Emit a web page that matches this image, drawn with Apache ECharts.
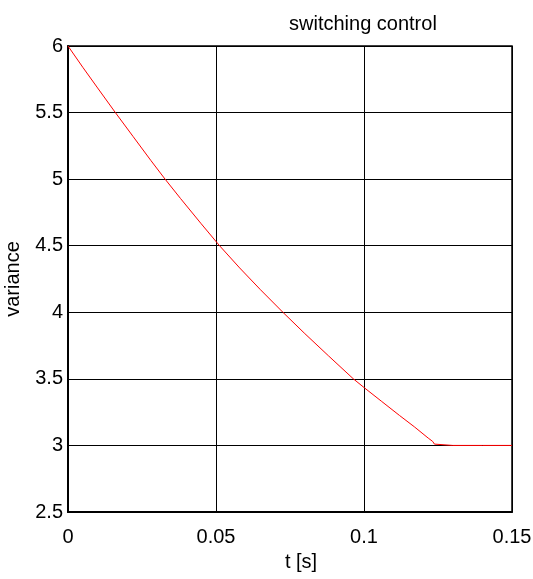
<!DOCTYPE html>
<html>
<head>
<meta charset="utf-8">
<script src="https://cdn.jsdelivr.net/npm/echarts@6/dist/echarts.min.js"></script>
<style>
  html, body { margin: 0; padding: 0; background: #fff; }
  #chart { width: 533px; height: 579px; }
</style>
</head>
<body>
<div id="chart"></div>
<script>
// Variance decay under switching control
const timeS = [0, 0.005, 0.010, 0.016, 0.022, 0.028, 0.0328, 0.038, 0.045, 0.0512, 0.058, 0.065, 0.0726, 0.080, 0.088, 0.0964, 0.100, 0.106, 0.112, 0.117, 0.1217, 0.1232, 0.1238, 0.1242, 0.130, 0.140, 0.150];
const variance = [6.0, 5.84, 5.685, 5.5, 5.32, 5.14, 5.0, 4.855, 4.665, 4.5, 4.333, 4.17, 4.0, 3.84, 3.673, 3.5, 3.435, 3.33, 3.225, 3.14, 3.055, 3.03, 3.01, 3.0, 3.0, 3.0, 3.0];

const xTicks = { min: 0, max: 0.15, step: 0.05 };
const yTicks = { min: 2.5, max: 6, step: 0.5 };

const FONT = '"Liberation Sans Narrow", "Liberation Sans", Arial, sans-serif';

const chart = echarts.init(document.getElementById('chart'), null, { renderer: 'canvas' });
chart.setOption({
  animation: false,
  backgroundColor: '#ffffff',
  title: {
    text: 'switching control',
    left: 284,
    top: 9,
    textStyle: { fontFamily: FONT, fontSize: 20, fontWeight: 'normal', color: '#000' }
  },
  grid: {
    left: 68, right: 21, top: 46, bottom: 67,
    outerBoundsMode: 'none',
    containLabel: false,
    show: true, borderColor: '#000', borderWidth: 1.5, backgroundColor: '#fff'
  },
  xAxis: {
    type: 'value',
    min: xTicks.min, max: xTicks.max, interval: xTicks.step,
    name: 't [s]',
    nameLocation: 'middle',
    nameGap: 40,
    nameTextStyle: { fontFamily: FONT, fontSize: 20, color: '#000', padding: [0, 0, 0, 22] },
    axisLine: { show: true, onZero: false, lineStyle: { color: '#000', width: 2 } },
    axisTick: { show: false },
    axisLabel: { fontFamily: FONT, fontSize: 20, color: '#000', margin: 15 },
    splitLine: { show: true, lineStyle: { color: '#000', width: 1 } }
  },
  yAxis: {
    type: 'value',
    min: yTicks.min, max: yTicks.max, interval: yTicks.step,
    name: 'variance',
    nameLocation: 'middle',
    nameGap: 45,
    nameRotate: 90,
    nameTextStyle: { fontFamily: FONT, fontSize: 20, color: '#000' },
    axisLine: { show: true, onZero: false, lineStyle: { color: '#000', width: 2 } },
    axisTick: { show: false },
    axisLabel: { fontFamily: FONT, fontSize: 20, color: '#000', margin: 5, padding: [5, 0, 0, 0] },
    splitLine: { show: true, lineStyle: { color: '#000', width: 1 } }
  },
  series: [{
    type: 'line',
    data: timeS.map((t, i) => [t, variance[i]]),
    showSymbol: false,
    smooth: false,
    lineStyle: { color: '#ff0000', width: 1 },
    z: 5
  }]
});
</script>
</body>
</html>
